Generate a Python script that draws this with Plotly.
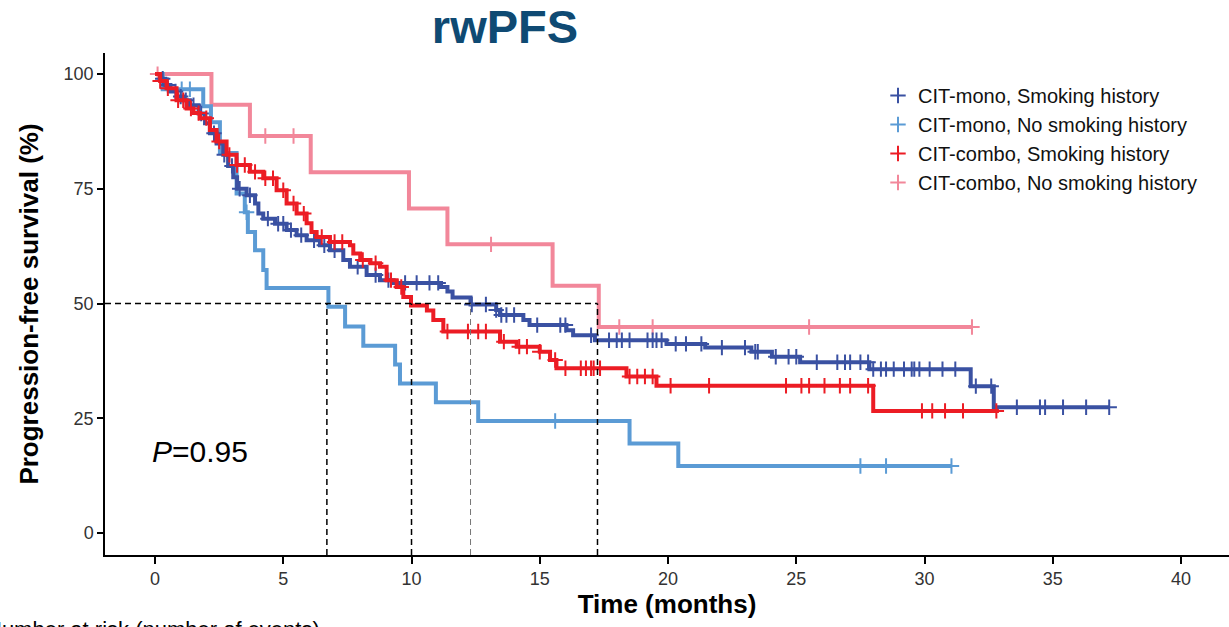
import numpy as np
import plotly.graph_objects as go

# ---------------- data ----------------
series_names = [
    "CIT-mono, Smoking history",
    "CIT-mono, No smoking history",
    "CIT-combo, Smoking history",
    "CIT-combo, No smoking history",
]

# CIT-mono, Smoking history (step times, survival %)
mono_smk_t = [0, 0.2, 0.4, 0.6, 0.85, 1.1, 1.36, 1.7, 1.95, 2.14, 2.4, 2.66, 2.85, 3.05, 3.2, 3.57,
              3.9, 4.03, 4.22, 4.68, 5.13, 5.52, 5.91, 6.43, 6.82, 7.34, 7.6, 8.25, 8.77, 9.3, 11.15,
              11.4, 11.6, 12.3, 13.3, 13.45, 14.36, 14.6, 16.04, 16.3, 17.15, 19.94, 21.45, 23.25,
              24.05, 25.15, 27.85, 31.8, 32.7]
mono_smk_s = [100, 99, 97.6, 96.2, 95.1, 94.3, 93.2, 91.4, 89.3, 87.1, 84.9, 82.4, 80.0, 77.5, 75.0,
              73.6, 71.8, 69.6, 68.5, 67.4, 66.0, 64.9, 63.8, 62.7, 61.6, 59.5, 58.0, 56.2, 55.1,
              54.5, 53.6, 52.6, 51.3, 49.8, 48.6, 47.5, 46.4, 45.3, 44.2, 43.1, 42.0, 41.2, 40.4,
              39.5, 38.4, 37.2, 35.7, 32.0, 27.4]
mono_smk_end = 37.2
mono_smk_cens = [0.3, 0.5, 0.8, 1.0, 1.2, 1.5, 1.8, 2.3, 2.7, 3.0, 3.3, 3.7, 4.4, 4.8, 5.0, 5.3, 5.7,
                 6.2, 6.6, 7.0, 7.9, 8.6, 9.1, 9.75, 10.2, 10.7, 11.04, 12.35, 12.9, 13.3, 13.5,
                 13.7, 14.0, 14.9, 15.8, 16.0, 17.0, 17.7, 18.0, 18.2, 18.5, 19.2, 19.4, 19.55,
                 19.75, 20.3, 20.7, 21.3, 22.1, 23.0, 23.4, 23.5, 24.2, 24.7, 25.0, 25.8, 26.6,
                 26.9, 27.1, 27.5, 27.8, 28.0, 28.3, 28.5, 28.8, 29.2, 29.5, 29.6, 29.8, 30.2,
                 30.7, 31.2, 32.0, 32.6, 33.6, 34.5, 34.7, 35.4, 36.3, 37.2]

# CIT-mono, No smoking history
mono_nsmk_t = [0, 0.3, 1.88, 2.18, 2.53, 3.18, 3.5, 3.62, 3.9, 4.22, 4.35, 6.76, 7.41, 8.12, 9.36,
               9.55, 10.95, 12.6, 18.5, 20.4]
mono_nsmk_s = [100, 96.7, 93.0, 89.5, 82.8, 74.0, 69.9, 65.6, 61.6, 57.3, 53.4, 49.3, 45.0, 40.8,
               36.7, 32.6, 28.5, 24.4, 19.5, 14.6]
mono_nsmk_end = 31.05
mono_nsmk_cens = [1.04, 1.36, 3.57, 15.6, 27.5, 28.5, 31.05]

# CIT-combo, Smoking history
combo_smk_t = [0, 0.2, 0.45, 0.84, 1.23, 1.5, 1.75, 2.14, 2.4, 2.79, 3.18, 3.7, 4.22, 4.74, 5.13,
               5.52, 5.91, 6.1, 6.3, 6.82, 7.6, 7.73, 8.0, 8.4, 8.77, 9.03, 9.42, 9.68, 9.98, 10.6,
               10.85, 11.24, 13.45, 14.1, 15.0, 15.4, 15.65, 18.38, 19.55, 28.0]
combo_smk_s = [100, 98.5, 96.9, 94.3, 92.5, 91.5, 90.4, 87.8, 85.3, 82.4, 80.2, 78.7, 77.3, 74.7,
               71.8, 69.6, 67.5, 65.6, 64.5, 63.4, 62.7, 60.9, 59.5, 58.8, 58.0, 55.1, 53.6, 51.4,
               49.6, 48.5, 46.4, 43.9, 41.7, 40.6, 39.5, 37.7, 35.9, 34.1, 32.1, 26.6]
combo_smk_end = 32.9
combo_smk_cens = [0.2, 0.5, 0.9, 1.1, 1.4, 1.7, 2.0, 2.5, 2.9, 3.2, 3.5, 3.9, 4.3, 4.6, 5.0, 5.4,
                  5.8, 6.5, 7.0, 7.3, 8.1, 8.6, 9.2, 9.6, 11.4, 12.2, 12.6, 12.9, 13.6, 14.2, 14.5,
                  15.0, 15.6, 16.0, 16.6, 16.8, 17.0, 17.1, 17.35, 18.5, 18.8, 19.1, 19.4, 20.1,
                  21.6, 24.6, 25.2, 25.5, 26.1, 26.7, 27.1, 27.8, 29.9, 30.3, 30.8, 31.5, 32.8]

# CIT-combo, No smoking history
combo_nsmk_t = [0, 2.2, 3.7, 6.07, 9.9, 11.4, 15.5, 17.3]
combo_nsmk_s = [100, 93.3, 86.5, 78.6, 70.7, 62.9, 53.9, 44.9]
combo_nsmk_end = 31.85
combo_nsmk_cens = [0.1, 4.3, 5.4, 13.1, 18.1, 19.4, 25.5, 31.85]

medians = [6.7, 10.0, 12.3, 17.25]
median_colors = ["black", "black", "#777777", "black"]
p_text = "<i>P</i>=0.95"

x_ticks = [0, 5, 10, 15, 20, 25, 30, 35, 40]
y_ticks = [0, 25, 50, 75, 100]

colors = ["#3a51a2", "#5b9bd5", "#ec1c24", "#f2879a"]

# ---------------- figure ----------------
X_MIN, X_MAX = -1.95, 41.87
Y_MIN, Y_MAX = -4.8, 104.6

def surv_at(ts, ss, t):
    idx = np.searchsorted(np.array(ts), np.array(t), side="right") - 1
    return np.array(ss)[idx]

series = [
    (mono_smk_t, mono_smk_s, mono_smk_end, mono_smk_cens),
    (mono_nsmk_t, mono_nsmk_s, mono_nsmk_end, mono_nsmk_cens),
    (combo_smk_t, combo_smk_s, combo_smk_end, combo_smk_cens),
    (combo_nsmk_t, combo_nsmk_s, combo_nsmk_end, combo_nsmk_cens),
]

FONT = "Liberation Sans, Arial, sans-serif"

fig = go.Figure()
draw_order = [3, 1, 0, 2]
for i in draw_order:
    ts, ss, tend, cens = series[i]
    xs = list(ts) + [tend]
    ys = list(ss) + [ss[-1]]
    fig.add_trace(go.Scatter(
        x=xs, y=ys, mode="lines", line=dict(color=colors[i], width=4, shape="hv"),
        showlegend=False, legendgroup=str(i), hoverinfo="skip"))
    fig.add_trace(go.Scatter(
        x=cens, y=surv_at(ts, ss, cens), mode="markers", name=series_names[i],
        legendgroup=str(i), legendrank=i + 1,
        marker=dict(symbol="cross-thin", size=11, color=colors[i],
                    line=dict(color=colors[i], width=2))))

# median reference lines
fig.add_shape(type="line", xref="x", yref="y", x0=X_MIN, x1=max(medians), y0=50, y1=50,
              line=dict(color="black", width=1.5, dash="6px,4px"))
for m, c in zip(medians, median_colors):
    fig.add_shape(type="line", xref="x", yref="y", x0=m, x1=m, y0=Y_MIN, y1=50,
                  line=dict(color=c, width=1.5 if c == "black" else 1, dash="6px,4px"))

fig.add_annotation(x=-0.2, y=17.8, xref="x", yref="y", text=p_text, showarrow=False,
                   xanchor="left", yanchor="middle",
                   font=dict(family=FONT, size=30, color="black"))

fig.add_annotation(x=(-16 - 105) / 1124, y=(555 - 629) / 502, xref="paper", yref="paper",
                   text="Number at risk (number of events)", showarrow=False,
                   xanchor="left", yanchor="middle",
                   font=dict(family=FONT, size=22, color="black"))

fig.update_layout(
    width=1229, height=627,
    margin=dict(l=105, r=0, t=53, b=72),
    paper_bgcolor="white", plot_bgcolor="white",
    font=dict(family=FONT, color="#333333"),
    title=dict(text="<b>rwPFS</b>", x=505 / 1229, xanchor="center", y=1 - 27 / 627,
               yanchor="middle", font=dict(size=47, color="#0f4a73")),
    legend=dict(x=(878 - 105) / 1124, xanchor="left", y=(555 - 76) / 502, yanchor="top",
                bgcolor="rgba(0,0,0,0)", font=dict(size=20, color="#111111"),
                tracegroupgap=0),
    xaxis=dict(range=[X_MIN, X_MAX], tickvals=x_ticks, ticks="outside", ticklen=7,
               tickwidth=1.5, tickcolor="black", showline=True, linecolor="black", linewidth=1.5,
               showgrid=False, zeroline=False, tickfont=dict(size=18, color="#333333"),
               title=dict(text="<b>Time (months)</b>", font=dict(size=26, color="black"),
                          standoff=5)),
    yaxis=dict(range=[Y_MIN, Y_MAX], tickvals=y_ticks, ticks="outside", ticklen=6,
               tickwidth=1.5, tickcolor="black", showline=True, linecolor="black", linewidth=1.5,
               showgrid=False, zeroline=False, tickfont=dict(size=18, color="#333333"),
               title=dict(text="<b>Progression-free survival (%)</b>",
                          font=dict(size=26, color="black"), standoff=18)),
)

fig.write_html("out.html")
